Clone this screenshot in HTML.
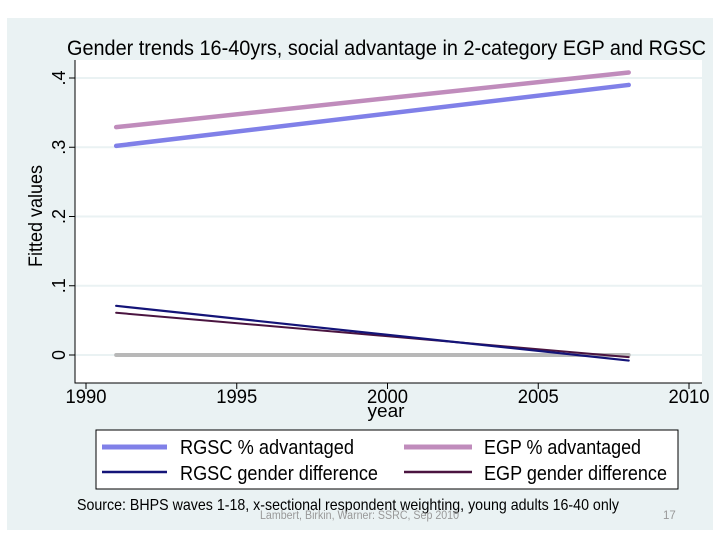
<!DOCTYPE html>
<html><head><meta charset="utf-8"><style>
body{margin:0;background:#fff;width:720px;height:540px;overflow:hidden;font-family:"Liberation Sans",sans-serif}
</style></head><body>
<svg width="720" height="540" viewBox="0 0 720 540">
<rect x="7" y="18" width="706" height="512" fill="#eaf2f3"/>
<rect x="75" y="60" width="627" height="323" fill="#fff"/>
<text x="67" y="55" font-size="21" fill="#000" textLength="639" lengthAdjust="spacingAndGlyphs">Gender trends 16-40yrs, social advantage in 2-category EGP and RGSC</text>
<g id="grid"></g><g id="axes"></g><g id="series"></g>
<text transform="translate(42,216) rotate(-90)" text-anchor="middle" font-size="19" textLength="102" lengthAdjust="spacingAndGlyphs">Fitted values</text>
<text x="386" y="417" text-anchor="middle" font-size="18" textLength="37" lengthAdjust="spacingAndGlyphs">year</text>
<g>
<rect x="96" y="430" width="582" height="59" fill="#fff" stroke="#000" stroke-width="1"/>
<line x1="102" y1="447" x2="167" y2="447" stroke="#8080e8" stroke-width="5"/>
<text x="180" y="454" font-size="20" textLength="174" lengthAdjust="spacingAndGlyphs">RGSC % advantaged</text>
<line x1="102" y1="472" x2="167" y2="472" stroke="#141478" stroke-width="2.5"/>
<text x="180" y="480" font-size="20" textLength="198" lengthAdjust="spacingAndGlyphs">RGSC gender difference</text>
<line x1="404" y1="447" x2="472" y2="447" stroke="#c08cbc" stroke-width="5"/>
<text x="484" y="454" font-size="20" textLength="157" lengthAdjust="spacingAndGlyphs">EGP % advantaged</text>
<line x1="404" y1="472" x2="472" y2="472" stroke="#4a1440" stroke-width="2.5"/>
<text x="484" y="480" font-size="20" textLength="183" lengthAdjust="spacingAndGlyphs">EGP gender difference</text>
</g>
<text x="77" y="510" font-size="16" textLength="542" lengthAdjust="spacingAndGlyphs">Source: BHPS waves 1-18, x-sectional respondent weighting, young adults 16-40 only</text>
<text x="260" y="519" font-size="11.5" fill="#999" textLength="199" lengthAdjust="spacingAndGlyphs">Lambert, Birkin, Warner: SSRC, Sep 2010</text>
<text x="663" y="519" font-size="11.5" fill="#999">17</text>
</svg>
<script>
const years=[1991,2008];
const rgscAdv=[0.302,0.390];
const egpAdv=[0.329,0.408];
const rgscDiff=[0.071,-0.008];
const egpDiff=[0.061,-0.003];
const zeroRef=[0,0];
const yTicks=[0,0.1,0.2,0.3,0.4];
const yTickLabels=["0",".1",".2",".3",".4"];
const xTicks=[1990,1995,2000,2005,2010];
const NS="http://www.w3.org/2000/svg";
const xs=v=>86+(v-1990)*30.15;
const ys=v=>355-v*692.5;
function mk(t,a,p){const e=document.createElementNS(NS,t);for(const k in a)e.setAttribute(k,a[k]);document.getElementById(p).appendChild(e);return e;}
yTicks.forEach((v,i)=>{
 const g=mk('line',{x1:75,x2:702,y1:ys(v),y2:ys(v),stroke:'#eaf2f3','stroke-width':2},'grid');
 
 
 const t=mk('line',{x1:69,x2:75,y1:ys(v),y2:ys(v),stroke:'#000'},'axes');
 
 
 const l=mk('text',{transform:`translate(65,${ys(v)}) rotate(-90)`,'text-anchor':'middle','font-size':18},'axes');
 l.textContent=yTickLabels[i];
 
 
});
xTicks.forEach(v=>{
 const t=mk('line',{x1:xs(v),x2:xs(v),y1:383,y2:389,stroke:'#000'},'axes');
 
 
 const l=mk('text',{x:xs(v),y:403,'text-anchor':'middle','font-size':19,textLength:41,lengthAdjust:'spacingAndGlyphs'},'axes');
 l.textContent=v;
 
 
});
const ax=mk('path',{d:'M75,60 V383 H702',fill:'none',stroke:'#000','stroke-width':1},'axes');


function line(vals,col,w,name){
 const p=mk('polyline',{points:years.map((y,i)=>xs(y)+','+ys(vals[i])).join(' '),fill:'none',stroke:col,'stroke-width':w,'stroke-linecap':'round'},'series');
 
 
}
line(zeroRef,'#b8b8b8',4,'zero-reference-line');
line(egpAdv,'#c08cbc',4.5,'egp-advantaged-line');
line(rgscAdv,'#8080e8',4.5,'rgsc-advantaged-line');
line(egpDiff,'#4a1440',2,'egp-gender-difference-line');
line(rgscDiff,'#141478',2.2,'rgsc-gender-difference-line');
</script>
</body></html>
